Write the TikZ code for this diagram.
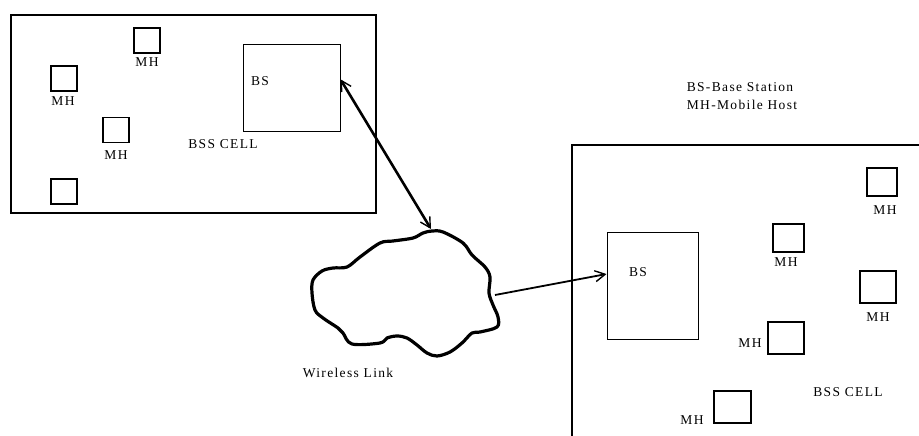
\documentclass[tikz,border=0pt]{standalone}
\usepackage{fontspec}
\setmainfont{Liberation Serif}[LetterSpace=10]
\usetikzlibrary{arrows.meta}
\begin{document}
\begin{tikzpicture}[
    x=1pt, y=-1pt,
    cell/.style={draw, line width=1.6pt},
    bs/.style={rectangle, draw, line width=1pt, inner sep=0pt},
    mh/.style={rectangle, draw, line width=1.2pt, minimum width=26pt, minimum height=25pt, inner sep=0pt},
    lbl/.style={inner sep=0pt, font=\fontsize{13.5}{15}\selectfont},
    barb/.tip={Straight Barb[length=10pt, width=11pt, line width=1.4pt]},
    link/.style={line width=2.6pt}
]
\useasboundingbox (0,0) rectangle (919,436);

% Левая ячейка
\draw[cell] (11,15) rectangle (376,213);
\node[bs, minimum width=97pt, minimum height=86pt] (bs1) at (291.5,88) {};
\node[lbl] at (260,81) {BS};
\node[mh] (mh1) at (147,40.5) {};
\node[mh] (mh2) at (64,78.5) {};
\node[mh] (mh3) at (116,130) {};
\node[mh] (mh4) at (64,191.5) {};
\node[lbl] at (147,62) {MH};
\node[lbl] at (63,101) {MH};
\node[lbl] at (116,155) {MH};
\node[lbl] at (223,144) {BSS CELL};

% Легенда
\node[lbl] at (740,87) {BS-Base Station};
\node[lbl] at (742,105) {MH-Mobile Host};

% Правая ячейка
\draw[cell] (919,145) -- (572,145) -- (572,436);
\node[bs, minimum width=91pt, minimum height=107pt] (bs2) at (652.5,285.5) {};
\node[lbl] at (638,272) {BS};
\node[mh, minimum width=30pt, minimum height=28pt] (mh5) at (882,182) {};
\node[mh, minimum width=31pt, minimum height=28pt] (mh6) at (788.5,238) {};
\node[mh, minimum width=36pt, minimum height=32pt, line width=1.5pt] (mh7) at (878,287) {};
\node[mh, minimum width=36pt, minimum height=32pt] (mh8) at (786,338) {};
\node[mh, minimum width=37pt, minimum height=32pt, line width=1.5pt] (mh9) at (732.5,407) {};
\node[lbl] at (885,210) {MH};
\node[lbl] at (786,262) {MH};
\node[lbl] at (878,317) {MH};
\node[lbl] at (750,343) {MH};
\node[lbl] at (692,420) {MH};
\node[lbl] at (848,392) {BSS CELL};

% Облако
\draw[line width=3.2pt, line join=round] plot[smooth cycle, tension=0.55] coordinates {
    (432,231) (443,232) (463,243) (472,255) (485,267) (490,277) (489,293)
    (493,305) (498,317) (497,327) (480,332) (472,333) (462,343) (450,352)
    (437,356) (427,353) (417,345) (407,338) (397,336) (387,338) (380,343)
    (352,344) (343,333) (338,328) (323,318) (315,310) (312,293) (313,280)
    (322,271) (333,268) (347,267) (360,257) (380,243) (393,241) (413,238)
    (423,233)};
\coordinate (cloudtop) at (431,229);
\coordinate (cloudright) at (495,295);
\node[lbl] at (348,373) {Wireless Link};

% Связи
\draw[link, barb-barb] (bs1.10) -- (cloudtop);
\draw[link, line width=1.8pt, -barb] (cloudright) -- (bs2.166);
\end{tikzpicture}
\end{document}
